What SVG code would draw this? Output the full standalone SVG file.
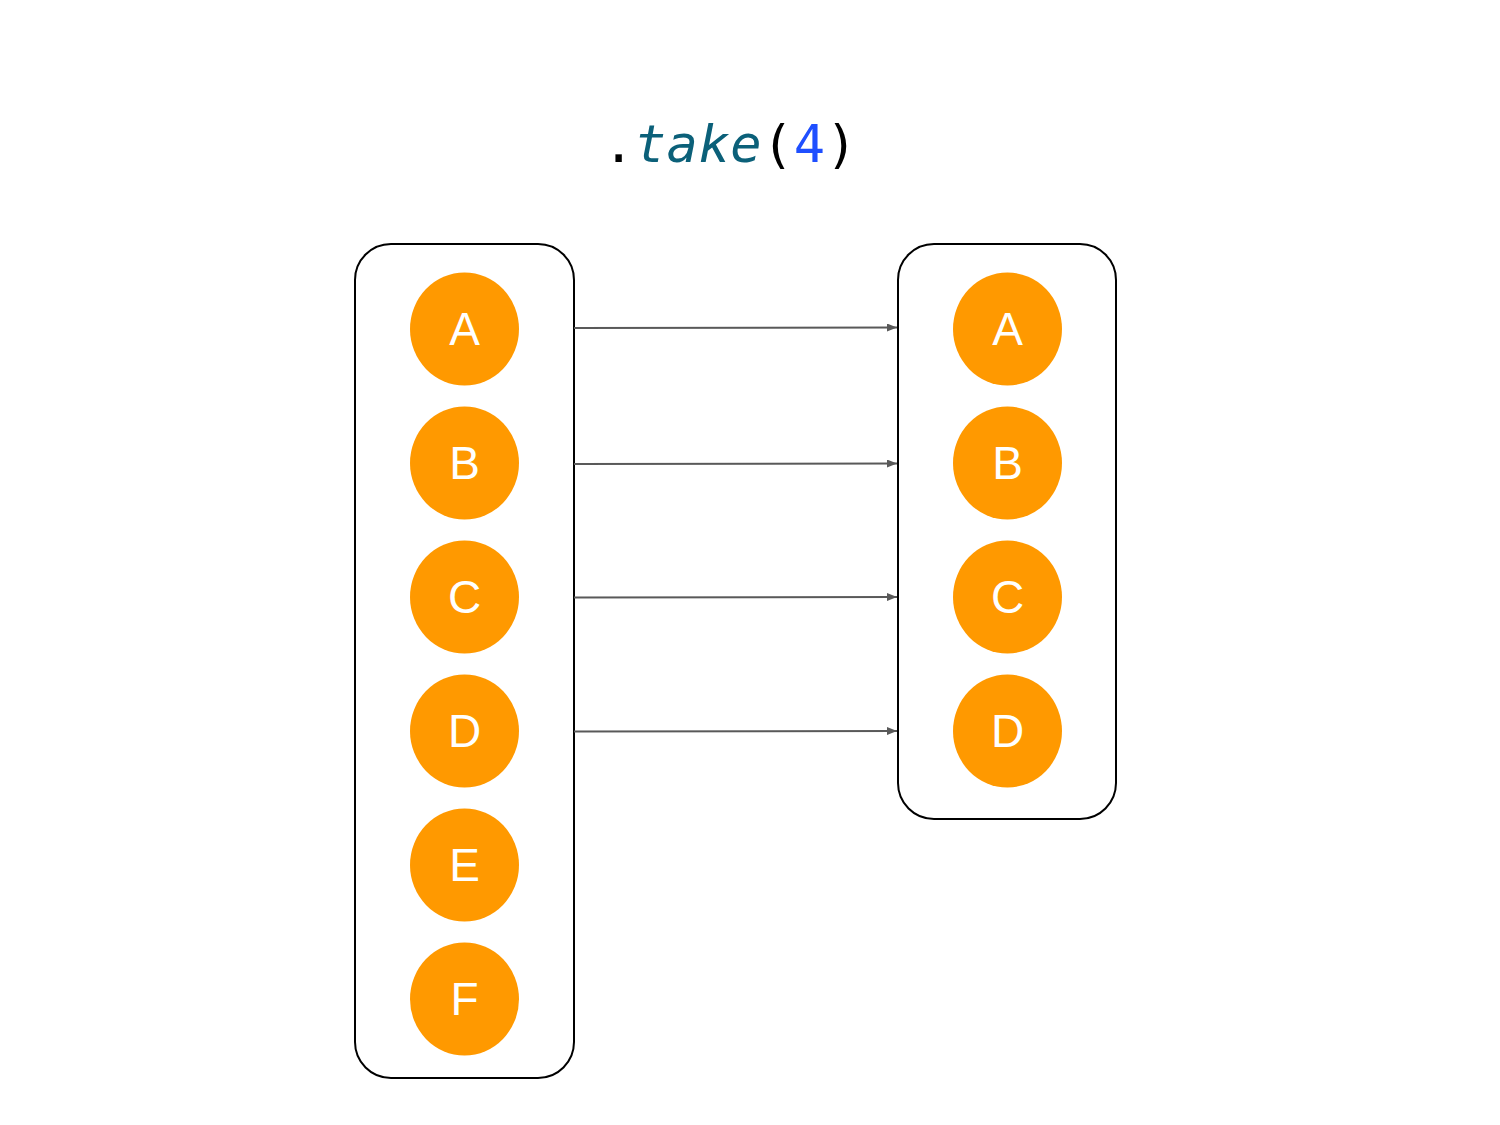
<svg xmlns="http://www.w3.org/2000/svg" width="1500" height="1125" viewBox="0 0 1500 1125">
<defs>
<style>
.box{fill:#fff;stroke:#000;stroke-width:2}
.node ellipse{fill:#ff9900}
.node text{fill:#fff;font-family:"Liberation Sans",Arial,sans-serif;font-size:46px;text-anchor:middle}
.conn line{stroke:#595959;stroke-width:2;marker-end:url(#arr)}
.title{font-family:"DejaVu Sans Mono","Liberation Mono",monospace;font-size:52px;letter-spacing:0.5px}
</style>
<marker id="arr" viewBox="0 0 10 8" refX="10" refY="4" markerWidth="11" markerHeight="8" orient="auto" markerUnits="userSpaceOnUse">
<path d="M0,0 L10,4 L0,8 Z" fill="#595959"/>
</marker>
</defs>
<rect width="1500" height="1125" fill="#fff"/>
<text class="title" x="603" y="162"><tspan fill="#000">.</tspan><tspan fill="#0b6079" font-style="italic">take</tspan><tspan fill="#000">(</tspan><tspan fill="#1f4fff">4</tspan><tspan fill="#000">)</tspan></text>
<g id="left-box"><rect class="box" x="355" y="244" width="219" height="834" rx="36"/></g>
<g id="right-box"><rect class="box" x="898" y="244" width="218" height="575" rx="36"/></g>
<g class="conn" id="connectors">
<line x1="574" y1="328" x2="897" y2="327.5"/>
<line x1="574" y1="464" x2="897" y2="463.5"/>
<line x1="574" y1="597.5" x2="897" y2="597"/>
<line x1="574" y1="731.5" x2="897" y2="731"/>
</g>
<g class="node" id="L-A"><ellipse cx="464.5" cy="329" rx="54.5" ry="56.5"/><text x="464.5" y="345">A</text></g>
<g class="node" id="L-B"><ellipse cx="464.5" cy="463" rx="54.5" ry="56.5"/><text x="464.5" y="479">B</text></g>
<g class="node" id="L-C"><ellipse cx="464.5" cy="597" rx="54.5" ry="56.5"/><text x="464.5" y="613">C</text></g>
<g class="node" id="L-D"><ellipse cx="464.5" cy="731" rx="54.5" ry="56.5"/><text x="464.5" y="747">D</text></g>
<g class="node" id="L-E"><ellipse cx="464.5" cy="865" rx="54.5" ry="56.5"/><text x="464.5" y="881">E</text></g>
<g class="node" id="L-F"><ellipse cx="464.5" cy="999" rx="54.5" ry="56.5"/><text x="464.5" y="1015">F</text></g>
<g class="node" id="R-A"><ellipse cx="1007.5" cy="329" rx="54.5" ry="56.5"/><text x="1007.5" y="345">A</text></g>
<g class="node" id="R-B"><ellipse cx="1007.5" cy="463" rx="54.5" ry="56.5"/><text x="1007.5" y="479">B</text></g>
<g class="node" id="R-C"><ellipse cx="1007.5" cy="597" rx="54.5" ry="56.5"/><text x="1007.5" y="613">C</text></g>
<g class="node" id="R-D"><ellipse cx="1007.5" cy="731" rx="54.5" ry="56.5"/><text x="1007.5" y="747">D</text></g>
</svg>
